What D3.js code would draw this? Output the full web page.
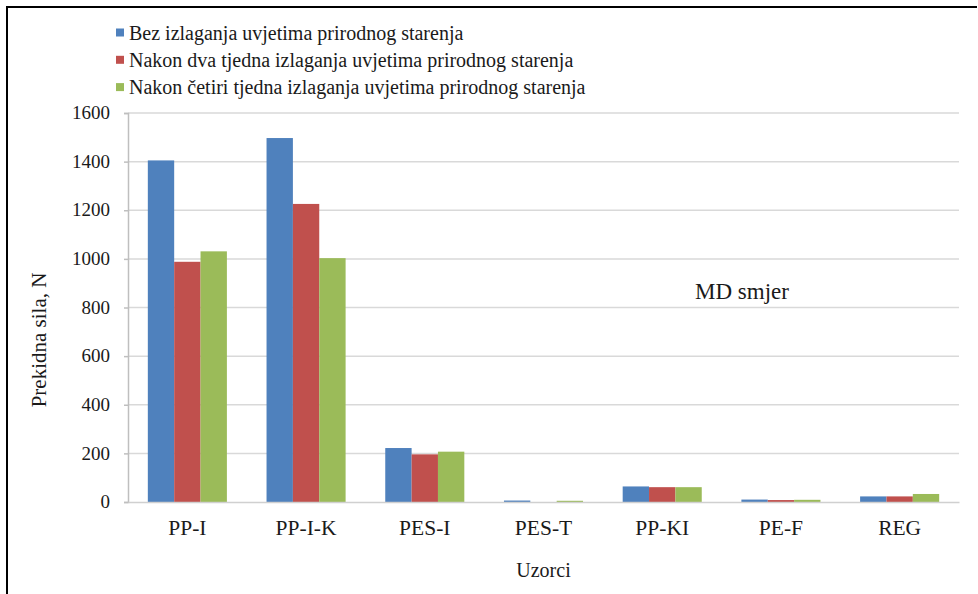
<!DOCTYPE html>
<html>
<head>
<meta charset="utf-8">
<script src="https://cdn.jsdelivr.net/npm/d3@7"></script>
<style>
  body { margin: 0; background: #fff; }
  svg text { font-family: "Liberation Serif", "DejaVu Serif", serif; fill: #1a1a1a; }
</style>
</head>
<body>
<div id="chart"></div>
<script>
let uzorci = ['PP-I', 'PP-I-K', 'PES-I', 'PES-T', 'PP-KI', 'PE-F', 'REG'];
let serije = ['Bez izlaganja uvjetima prirodnog starenja',
              'Nakon dva tjedna izlaganja uvjetima prirodnog starenja',
              'Nakon četiri tjedna izlaganja uvjetima prirodnog starenja'];
let bez = [1405, 1497, 222, 6, 64, 10, 23];
let dvaTjedna = [988, 1226, 196, 0, 61, 8, 23];
let cetiriTjedna = [1031, 1003, 207, 5, 61, 9, 33];
let yTicks = [0, 200, 400, 600, 800, 1000, 1200, 1400, 1600];
let boje = ['#4f81bd', '#c0504d', '#9bbb59'];

let w = 978;
let h = 594;
let pLeft = 128, pRight = 959, pTop = 113, pBottom = 502;
let serif = '"Liberation Serif", "DejaVu Serif", serif';

let vrijednosti = [bez, dvaTjedna, cetiriTjedna];

let xScale = d3.scaleBand()
               .domain(uzorci)
               .range([pLeft, pRight])
               .paddingInner(0.334)
               .paddingOuter(0.167);
let xInner = d3.scaleBand()
               .domain(d3.range(serije.length))
               .range([0, xScale.bandwidth()]);
let yScale = d3.scaleLinear()
               .domain([0, 1600])
               .range([pBottom, pTop]);

let svg = d3.select('#chart')
            .append('svg')
            .attr('width', w)
            .attr('height', h)
            .attr('font-family', serif);

// okvir
svg.append('line').attr('x1', 7).attr('x2', 977).attr('y1', 7).attr('y2', 7)
   .attr('stroke', '#000').attr('stroke-width', 2);
svg.append('line').attr('x1', 7).attr('x2', 7).attr('y1', 6).attr('y2', h)
   .attr('stroke', '#000').attr('stroke-width', 2);

// mreza
svg.append('g')
   .selectAll('line')
   .data(yTicks.filter(d => d > 0))
   .enter()
   .append('line')
   .attr('x1', pLeft)
   .attr('x2', pRight)
   .attr('y1', d => yScale(d))
   .attr('y2', d => yScale(d))
   .attr('stroke', '#d9d9d9')
   .attr('stroke-width', 1.5);

// stupci
let grupe = svg.append('g')
               .selectAll('g')
               .data(uzorci)
               .enter()
               .append('g')
               .attr('transform', d => 'translate(' + xScale(d) + ',0)');
grupe.selectAll('rect')
     .data((d, i) => vrijednosti.map((s, j) => ({ serija: j, v: s[i] })))
     .enter()
     .append('rect')
     .attr('x', d => xInner(d.serija))
     .attr('width', xInner.bandwidth())
     .attr('y', d => yScale(d.v))
     .attr('height', d => pBottom - yScale(d.v))
     .attr('fill', d => boje[d.serija]);

// y os
let yAxis = d3.axisLeft(yScale).tickValues(yTicks).tickFormat(d3.format('d')).tickSize(4).tickPadding(14);
let yG = svg.append('g')
            .attr('transform', 'translate(' + pLeft + ',0)')
            .call(yAxis)
            .attr('font-family', serif);
yG.select('.domain').attr('stroke', '#bfbfbf').attr('stroke-width', 1.5);
yG.selectAll('.tick line').attr('stroke', '#bfbfbf').attr('stroke-width', 1.5);
yG.selectAll('.tick text')
  .style('font-size', '19px')
  .attr('fill', '#1a1a1a')
  .attr('dy', '0.3em');

// x os
let xAxis = d3.axisBottom(xScale).tickSize(0).tickPadding(18);
let xG = svg.append('g')
            .attr('transform', 'translate(0,' + pBottom + ')')
            .call(xAxis)
            .attr('font-family', serif);
xG.select('.domain').attr('stroke', '#d0d0d0').attr('stroke-width', 1.5);
xG.selectAll('.tick text')
  .style('font-size', '21.5px')
  .attr('fill', '#1a1a1a')
  .attr('dy', '0.71em');

// naslovi osi
svg.append('text')
   .attr('x', (pLeft + pRight) / 2)
   .attr('y', 577)
   .attr('text-anchor', 'middle')
   .style('font-size', '20px')
   .text('Uzorci');
svg.append('text')
   .attr('transform', 'translate(46,340) rotate(-90)')
   .attr('text-anchor', 'middle')
   .style('font-size', '21px')
   .text('Prekidna sila, N');

svg.append('text')
   .attr('x', 695)
   .attr('y', 299)
   .style('font-size', '23px')
   .text('MD smjer');

// legenda
let legend = svg.append('g');
legend.selectAll('rect')
      .data(serije)
      .enter()
      .append('rect')
      .attr('x', 116)
      .attr('y', (d, i) => 28.5 + i * 27.3)
      .attr('width', 8)
      .attr('height', 8)
      .attr('fill', (d, i) => boje[i]);
legend.selectAll('text')
      .data(serije)
      .enter()
      .append('text')
      .attr('x', 129)
      .attr('y', (d, i) => 39.5 + i * 27.3)
      .style('font-size', '20px')
      .text(d => d);
</script>
</body>
</html>
